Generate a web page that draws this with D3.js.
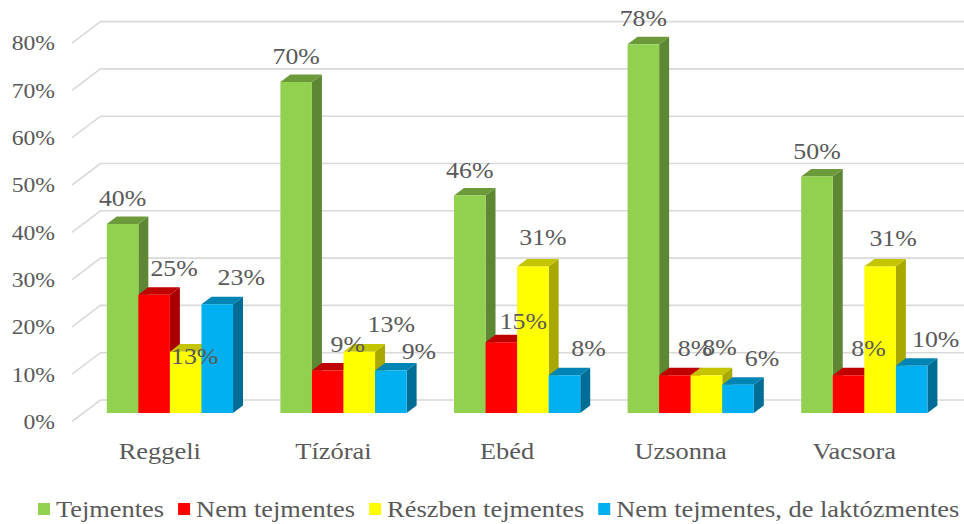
<!DOCTYPE html>
<html>
<head>
<meta charset="utf-8">
<script src="https://cdn.jsdelivr.net/npm/d3@7"></script>
</head>
<body style="margin:0">
<svg id="chart" width="964" height="524" font-family="Liberation Serif" style="display:block"></svg>
<script>
// Meals (categories) and the four diet groups (series), values in percent
const categories = ["Reggeli", "Tízórai", "Ebéd", "Uzsonna", "Vacsora"];
const seriesNames = ["Tejmentes", "Nem tejmentes", "Részben tejmentes", "Nem tejmentes, de laktózmentes"];
const tejmentes = [40, 70, 46, 78, 50];
const nemTejmentes = [25, 9, 15, 8, 8];
const reszbenTejmentes = [13, 13, 31, 8, 31];
const laktozmentes = [23, 9, 8, 6, 10];
const yTicks = [0, 10, 20, 30, 40, 50, 60, 70, 80];

const seriesValues = [tejmentes, nemTejmentes, reszbenTejmentes, laktozmentes];

const TEXT = "#595959";

// Face colours per series: front, top, side
const palette = [
  { front: "#92d050", top: "#6c9a3a", side: "#5e8733" },
  { front: "#ff0000", top: "#c00000", side: "#a80000" },
  { front: "#ffff00", top: "#c4c400", side: "#a8a800" },
  { front: "#00b0f0", top: "#0084b4", side: "#006d96" }
];

// Oblique 3D projection: depth z in [0,1] shifts a point up and to the right
const DX = 28.5, DY = -21.5;
const proj = (x, y, z) => [x + z * DX, y + z * DY];
const Z0 = 0.39, Z1 = 0.74;           // bar depth slab inside the plot box
const SX = 1.1;                        // horizontal text stretch

const svg = d3.select("#chart");
const styleText = sel => sel.style("font-family", "\"Liberation Serif\"").attr("fill", TEXT);

const y = d3.scaleLinear().domain([0, 80]).range([421.5, 43.1]);
const x = d3.scaleBand().domain(categories).range([72, 940])
  .paddingInner(1.5 / 5.5).paddingOuter(0.75 / 5.5);
const xs = d3.scaleBand().domain(seriesNames).range([0, x.bandwidth()]);
const color = d3.scaleOrdinal().domain(seriesNames).range(palette);

// Gridlines: slanted on the left wall, then flat along the back wall
const grid = svg.append("g");
yTicks.forEach(t => {
  const a = proj(72, y(t), 0), b = proj(72, y(t), 1);
  grid.append("path")
    .attr("d", `M${a[0]},${a[1]}L${b[0]},${b[1]}L970,${b[1]}`)
    .attr("fill", "none").attr("stroke", "#d9d9d9").attr("stroke-width", 1.6);
});

// Y axis labels
const yAxis = svg.append("g").attr("transform", "translate(72,0)")
  .call(d3.axisLeft(y).tickValues(yTicks).tickFormat(d => d + "%").tickSize(0).tickPadding(17));
yAxis.select(".domain").remove();
yAxis.attr("font-family", "Liberation Serif").attr("font-size", 21.5);
yAxis.selectAll("text")
  .call(styleText)
  .style("font-size", "21.5px")
  .attr("x", function () { return +d3.select(this).attr("x") / SX; })
  .attr("transform", `scale(${SX},1)`);

// Bars, painted left to right so each front face hides the previous side
const bars = [];
categories.forEach((c, ci) => {
  seriesNames.forEach((s, si) => {
    bars.push({ c, s, si, v: seriesValues[si][ci] });
  });
});

const poly = pts => "M" + pts.map(p => p.join(",")).join("L") + "Z";
const barG = svg.append("g");
bars.forEach(d => {
  const x0 = x(d.c) + xs(d.s), x1 = x0 + xs.bandwidth();
  const yb = y(0), yt = y(d.v);
  const col = color(d.s);
  const g = barG.append("g");
  // side face
  g.append("path").attr("fill", col.side).attr("d", poly([
    proj(x1, yt, Z0), proj(x1, yt, Z1), proj(x1, yb, Z1), proj(x1, yb, Z0)]));
  // top face
  g.append("path").attr("fill", col.top).attr("d", poly([
    proj(x0, yt, Z0), proj(x0, yt, Z1), proj(x1, yt, Z1), proj(x1, yt, Z0)]));
  // front face
  g.append("path").attr("fill", col.front).attr("d", poly([
    proj(x0, yt, Z0), proj(x1, yt, Z0), proj(x1, yb, Z0), proj(x0, yb, Z0)]));
});

// Value labels above the bars; label offsets per series, with a few nudges
const labelOffset = [[0, -18], [20, -19], [13, -20], [24, -19]];
const labelNudge = {
  "Reggeli|2": [9, 12],
  "Tízórai|2": [32, -20],
  "Tízórai|3": [28, -12],
  "Ebéd|1": [22, -13],
  "Ebéd|2": [10, -21]
};
const labels = svg.append("g");
bars.forEach(d => {
  const x0 = x(d.c) + xs(d.s);
  const p = proj(x0 + xs.bandwidth() / 2, y(d.v), Z0);
  const off = labelNudge[d.c + "|" + d.si] || labelOffset[d.si];
  labels.append("text")
    .attr("transform", `translate(${p[0] + off[0]},${p[1] + off[1]}) scale(${SX},1)`)
    .attr("text-anchor", "middle")
    .call(styleText).style("font-size", "23.5px")
    .text(d.v + "%");
});

// Category labels under the front edge
const catG = svg.append("g");
categories.forEach(c => {
  catG.append("text")
    .attr("transform", `translate(${x(c) + x.bandwidth() / 2 + 1},459) scale(${SX},1)`)
    .attr("text-anchor", "middle")
    .call(styleText).style("font-size", "24px")
    .text(c);
});

// Legend
const legend = svg.append("g");
let lx = 38;
seriesNames.forEach(s => {
  legend.append("rect").attr("x", lx).attr("y", 503).attr("width", 12).attr("height", 12)
    .attr("fill", color(s).front);
  const t = legend.append("text")
    .attr("transform", `translate(${lx + 18},517) scale(${SX},1)`)
    .call(styleText).style("font-size", "24px")
    .text(s);
  const w = t.node().getComputedTextLength() * SX;
  lx += 18 + w + 14;
});
</script>
</body>
</html>
